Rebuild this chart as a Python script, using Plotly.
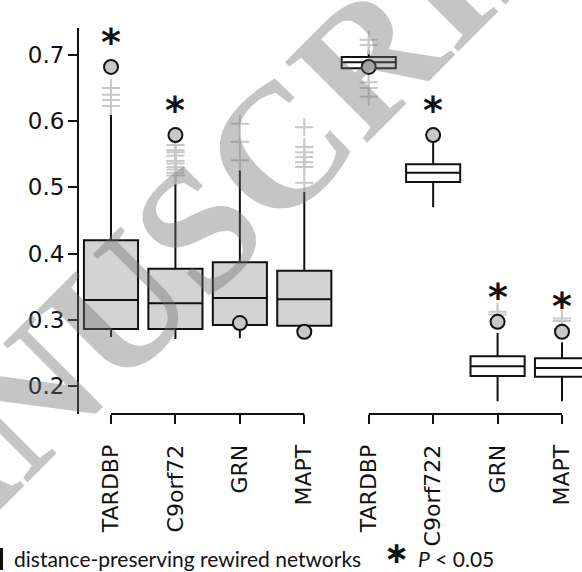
import plotly.graph_objects as go

# ---------------- data ----------------
genes_left = ["TARDBP", "C9orf72", "GRN", "MAPT"]
genes_right = ["TARDBP", "C9orf722", "GRN", "MAPT"]
tick_labels = genes_left + genes_right

# box statistics: left group (grey boxes) and right group (white boxes)
q1_left = [0.286, 0.286, 0.292, 0.291]
med_left = [0.330, 0.325, 0.333, 0.331]
q3_left = [0.420, 0.377, 0.387, 0.374]
lo_left = [0.274, 0.271, 0.272, 0.272]
hi_left = [0.612, 0.505, 0.526, 0.493]

q1_right = [0.680, 0.508, 0.215, 0.214]
med_right = [0.689, 0.522, 0.230, 0.227]
q3_right = [0.697, 0.535, 0.245, 0.242]
lo_right = [0.672, 0.470, 0.177, 0.177]
hi_right = [0.708, 0.570, 0.280, 0.266]

# observed values (grey circles)
observed = [0.682, 0.579, 0.295, 0.282, 0.682, 0.579, 0.297, 0.282]

# outliers (light grey crosses), per box index
outliers = {
    0: [0.623, 0.632, 0.640, 0.650],
    1: [0.518, 0.522, 0.527, 0.531, 0.536, 0.540, 0.548, 0.553, 0.556, 0.564],
    2: [0.541, 0.569, 0.596],
    3: [0.507, 0.531, 0.538, 0.546, 0.553, 0.561, 0.591],
    4: [0.637, 0.650, 0.659, 0.715, 0.723],
    6: [0.308, 0.312],
    7: [0.298, 0.302],
}

# significance stars (box index, y)
star_idx = [0, 1, 5, 6, 7]
star_y = [0.7257, 0.623, 0.623, 0.340, 0.327]

# ---------------- figure ----------------
W, H = 582, 572
ML, MR, MT, MB = 79, 0, 28, 158
PW, PH = W - ML - MR, H - MT - MB
px_per_unit = 64.43
x0_px = 111 - ML
xr = [-x0_px / px_per_unit, (PW - x0_px) / px_per_unit]
yr = [0.1577, 0.7408]
INK = "#111111"


def px2paper(px, py):
    return (px - ML) / PW, (H - MB - py) / PH


fig = go.Figure()

fig.add_trace(go.Box(
    x=[0, 1, 2, 3], q1=q1_left, median=med_left, q3=q3_left,
    lowerfence=lo_left, upperfence=hi_left,
    width=0.84, whiskerwidth=0, boxpoints=False,
    fillcolor="#d3d3d3", line=dict(color=INK, width=2),
    showlegend=False, hoverinfo="skip"))

fig.add_trace(go.Box(
    x=[4, 5, 6, 7], q1=q1_right, median=med_right, q3=q3_right,
    lowerfence=lo_right, upperfence=hi_right,
    width=0.84, whiskerwidth=0, boxpoints=False,
    fillcolor="#ffffff", line=dict(color=INK, width=2),
    showlegend=False, hoverinfo="skip"))

ox, oy = [], []
for k, vals in outliers.items():
    for v in vals:
        ox.append(k)
        oy.append(v)
fig.add_trace(go.Scatter(
    x=ox, y=oy, mode="markers",
    marker=dict(symbol="cross-thin", size=13, line=dict(color="#c8c8c8", width=2)),
    showlegend=False, hoverinfo="skip"))

fig.add_trace(go.Scatter(
    x=list(range(8)), y=observed, mode="markers",
    marker=dict(symbol="circle", size=14, color="#c8c8c8",
                line=dict(color=INK, width=2)),
    showlegend=False, hoverinfo="skip"))

for i, yv in zip(star_idx, star_y):
    fig.add_annotation(x=i, y=yv, xref="x", yref="y", text="<b>*</b>", showarrow=False,
                       xanchor="center", yanchor="middle", yshift=-4,
                       font=dict(family="DejaVu Sans", size=38, color=INK))

# bracket axis lines
for a, b in [(0, 3), (4, 7)]:
    fig.add_shape(type="line", xref="x", yref="paper", x0=a, x1=b, y0=0, y1=0,
                  line=dict(color=INK, width=2))

# legend-like texts at the bottom
lx, ly = px2paper(12, 558)
fig.add_annotation(xref="paper", yref="paper", x=lx, y=ly, xanchor="left", yanchor="middle",
                   text="distance-preserving rewired networks", showarrow=False,
                   font=dict(family="Lato", size=21, color=INK))
sx, sy = px2paper(396, 572)
fig.add_annotation(xref="paper", yref="paper", x=sx, y=sy, xanchor="center", yanchor="bottom",
                   text="<b>∗</b>", showarrow=False,
                   font=dict(family="DejaVu Sans", size=30, color=INK))
px_, py_ = px2paper(416, 558)
fig.add_annotation(xref="paper", yref="paper", x=px_, y=py_, xanchor="left", yanchor="middle",
                   text="<i>P</i> < 0.05", showarrow=False,
                   font=dict(family="Lato", size=21, color=INK))
bx0, by0 = px2paper(1.5, 548)
bx1, by1 = px2paper(1.5, 570)
fig.add_shape(type="line", xref="paper", yref="paper", x0=bx0, x1=bx1, y0=by0, y1=by1,
              line=dict(color=INK, width=3))

# watermark
wx, wy = px2paper(197, 228)
fig.add_annotation(xref="paper", yref="paper", x=wx, y=wy, xanchor="center", yanchor="middle",
                   text="<b>MANUSCRIPT</b>", showarrow=False, textangle=-45,
                   font=dict(family="Liberation Serif", size=176, color="rgba(110,110,110,0.4)"))

fig.update_layout(
    width=W, height=H,
    margin=dict(l=ML, r=MR, t=MT, b=MB, pad=0),
    paper_bgcolor="white", plot_bgcolor="white",
    boxmode="overlay",
    showlegend=False,
    xaxis=dict(range=xr, tickmode="array", tickvals=list(range(8)), ticktext=tick_labels,
               tickangle=-90, ticks="outside", ticklen=9, tickwidth=2, tickcolor=INK,
               showline=False, showgrid=False, zeroline=False,
               tickfont=dict(family="DejaVu Sans", size=22, color=INK),
               ticklabelstandoff=12),
    yaxis=dict(range=yr, tickmode="array", tickvals=[0.2, 0.3, 0.4, 0.5, 0.6, 0.7],
               ticktext=["0.2", "0.3", "0.4", "0.5", "0.6", "0.7"],
               ticks="outside", ticklen=9, tickwidth=2, tickcolor=INK,
               showline=True, linecolor=INK, linewidth=2,
               showgrid=False, zeroline=False,
               tickfont=dict(family="DejaVu Sans", size=23, color=INK),
               ticklabelstandoff=-1),
)

fig.write_html("out.html", config={"displayModeBar": False},
               post_script="document.body.style.margin='0px';")
